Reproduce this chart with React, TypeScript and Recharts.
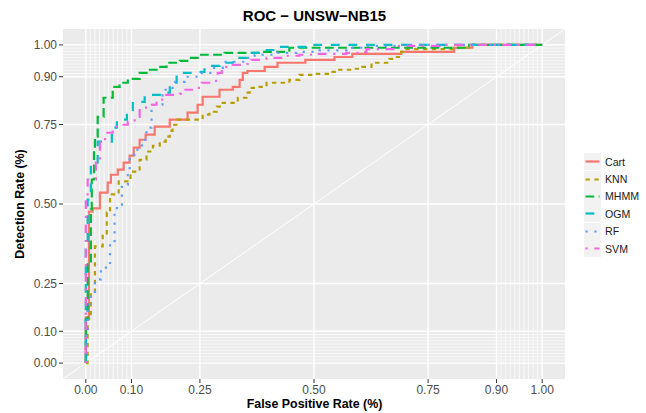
import { LineChart, Line, XAxis, YAxis, CartesianGrid, ReferenceLine, Legend } from "recharts";

const title = "ROC − UNSW−NB15";
const xTitle = "False Positive Rate (%)";
const yTitle = "Detection Rate (%)";

const majorBreaks = [0, 0.1, 0.25, 0.5, 0.75, 0.9, 1];
const minorBreaks = [
    0.01, 0.02, 0.03, 0.04, 0.05, 0.06, 0.07, 0.08, 0.09,
    0.91, 0.92, 0.93, 0.94, 0.95, 0.96, 0.97, 0.98, 0.99,
];

// [fpr, tpr] corners of each ROC staircase
const cart = [
    [0, 0], [0, 0.144], [0.007, 0.476], [0.015, 0.486], [0.031, 0.536], [0.048, 0.567],
    [0.055, 0.592], [0.07, 0.608], [0.083, 0.63], [0.096, 0.652], [0.105, 0.677],
    [0.118, 0.702], [0.131, 0.718], [0.151, 0.743], [0.184, 0.765], [0.223, 0.787],
    [0.245, 0.812], [0.256, 0.837], [0.293, 0.859], [0.322, 0.868], [0.337, 0.89],
    [0.344, 0.912], [0.354, 0.918], [0.392, 0.931], [0.42, 0.944], [0.481, 0.953],
    [0.545, 0.962], [0.584, 0.972], [0.691, 0.978], [0.807, 0.991], [0.847, 1], [1, 1],
];
const knn = [
    [0, 0], [0.004, 0.138], [0.011, 0.216], [0.02, 0.367], [0.037, 0.404], [0.046, 0.473],
    [0.053, 0.53], [0.072, 0.571], [0.098, 0.602], [0.118, 0.639], [0.133, 0.665],
    [0.147, 0.683], [0.162, 0.696], [0.175, 0.712], [0.184, 0.73], [0.19, 0.749],
    [0.201, 0.765], [0.256, 0.781], [0.271, 0.79], [0.287, 0.806], [0.3, 0.818],
    [0.333, 0.834], [0.352, 0.85], [0.359, 0.865], [0.374, 0.868], [0.396, 0.881],
    [0.446, 0.89], [0.468, 0.906], [0.497, 0.909], [0.534, 0.915], [0.549, 0.922],
    [0.584, 0.925], [0.606, 0.931], [0.626, 0.944], [0.665, 0.956], [0.676, 0.962],
    [0.691, 0.978], [0.698, 0.987], [0.807, 0.991], [0.847, 1], [1, 1],
];
const mhmm = [
    [0, 0], [0, 0.138], [0.004, 0.31], [0.011, 0.483], [0.013, 0.577], [0.018, 0.671],
    [0.02, 0.712], [0.026, 0.774], [0.039, 0.834], [0.059, 0.868], [0.074, 0.881],
    [0.092, 0.893], [0.118, 0.912], [0.133, 0.922], [0.155, 0.931], [0.177, 0.944],
    [0.206, 0.95], [0.228, 0.959], [0.249, 0.969], [0.304, 0.975], [0.387, 0.978],
    [0.446, 0.991], [0.84, 1], [1, 1],
];
const ogm = [
    [0, 0], [0, 0.357], [0.004, 0.514], [0.011, 0.63], [0.026, 0.696], [0.057, 0.74],
    [0.068, 0.765], [0.09, 0.787], [0.103, 0.821], [0.129, 0.843], [0.162, 0.85],
    [0.184, 0.881], [0.199, 0.912], [0.239, 0.915], [0.26, 0.934], [0.293, 0.944],
    [0.322, 0.959], [0.352, 0.975], [0.387, 0.984], [0.414, 0.994], [0.49, 1], [1, 1],
];
const rf = [
    [0, 0], [0, 0.107], [0.004, 0.185], [0.011, 0.216], [0.02, 0.263], [0.033, 0.288],
    [0.044, 0.304], [0.053, 0.379], [0.063, 0.476], [0.068, 0.498], [0.079, 0.561],
    [0.092, 0.599], [0.096, 0.655], [0.107, 0.671], [0.123, 0.702], [0.133, 0.74],
    [0.144, 0.812], [0.168, 0.859], [0.19, 0.884], [0.217, 0.9], [0.254, 0.912],
    [0.278, 0.928], [0.3, 0.947], [0.352, 0.959], [0.37, 0.969], [0.42, 0.975],
    [0.462, 0.978], [0.512, 0.983], [0.571, 0.991], [0.615, 0.997], [0.687, 1], [1, 1],
];
const svm = [
    [0, 0], [0, 0.514], [0.004, 0.577], [0.022, 0.63], [0.031, 0.693], [0.042, 0.724],
    [0.059, 0.743], [0.074, 0.749], [0.092, 0.759], [0.107, 0.774], [0.118, 0.803],
    [0.14, 0.812], [0.155, 0.828], [0.173, 0.843], [0.206, 0.846], [0.214, 0.859],
    [0.243, 0.865], [0.254, 0.881], [0.282, 0.887], [0.289, 0.912], [0.298, 0.931],
    [0.322, 0.937], [0.354, 0.94], [0.363, 0.953], [0.396, 0.959], [0.431, 0.966],
    [0.468, 0.969], [0.497, 0.972], [0.571, 0.975], [0.6, 0.978], [0.615, 0.987],
    [0.681, 0.997], [0.775, 1], [1, 1],
];

const models = ["Cart", "KNN", "MHMM", "OGM", "RF", "SVM"];
const curves = [cart, knn, mhmm, ogm, rf, svm];
const colors = ["#F8766D", "#B79F00", "#00BA38", "#00BFC4", "#619CFF", "#F564E3"];
const dashes = ["", "4.4 4.4", "8.8 4.4", "8.8 8.8", "2.2 6.6", "2.2 6.6 8.8 6.6"];

const series = models.map((name, i) => ({
    name,
    color: colors[i],
    dash: dashes[i],
    data: curves[i].map(([fpr, tpr]) => ({ fpr, tpr })),
}));

const font = "'Liberation Sans', Arial, sans-serif";
const tickStyle = { fill: "#4D4D4D", fontSize: 12, fontFamily: font };
const fmt = (v: number) => v.toFixed(2);

const RocLegend = () => (
    <div style={{ fontFamily: font }}>
        {series.map((s) => (
            <div key={s.name} style={{ display: "flex", alignItems: "center", height: 17.4 }}>
                <svg width={17} height={17} style={{ display: "block" }}>
                    <rect x={0} y={0} width={17} height={17} fill="#F2F2F2" />
                    <line x1={1.5} y1={8.5} x2={15.5} y2={8.5} stroke={s.color} strokeWidth={2.2} strokeDasharray={s.dash} />
                </svg>
                <span style={{ marginLeft: 4, fontSize: 10.6, color: "#1A1A1A" }}>{s.name}</span>
            </div>
        ))}
    </div>
);

export default function App() {
    return (
        <div style={{ position: "relative", width: 646, height: 413, background: "#fff", fontFamily: font }}>
            <style>{`body{margin:0}`}</style>
            <LineChart width={646} height={413} margin={{ top: 29, right: 81, bottom: 0, left: 0 }}>
                <CartesianGrid
                    fill="#EBEBEB" stroke="#FFFFFF" strokeWidth={0.7}
                    verticalValues={minorBreaks} horizontalValues={minorBreaks}
                />
                <CartesianGrid
                    stroke="#FFFFFF" strokeWidth={1.4}
                    verticalValues={majorBreaks} horizontalValues={majorBreaks}
                />
                <XAxis
                    type="number" dataKey="fpr" domain={[-0.05, 1.05]} allowDataOverflow
                    ticks={majorBreaks} interval={0} tickFormatter={fmt}
                    axisLine={false} tickLine={{ stroke: "#333333" }} tickSize={4} tickMargin={2}
                    tick={tickStyle} height={34}
                />
                <YAxis
                    type="number" dataKey="tpr" domain={[-0.05, 1.05]} allowDataOverflow
                    ticks={majorBreaks} interval={0} tickFormatter={fmt}
                    axisLine={false} tickLine={{ stroke: "#333333" }} tickSize={4} tickMargin={2}
                    tick={tickStyle} width={63}
                />
                <ReferenceLine
                    segment={[{ x: -0.05, y: -0.05 }, { x: 1.05, y: 1.05 }]}
                    stroke="#FFFFFF" strokeWidth={1}
                />
                {series.map((s) => (
                    <Line
                        key={s.name} data={s.data} dataKey="tpr" name={s.name}
                        type="stepAfter" stroke={s.color} strokeWidth={2.2}
                        strokeDasharray={s.dash || undefined}
                        dot={false} activeDot={false} isAnimationActive={false}
                    />
                ))}
                <Legend
                    layout="horizontal" align="center" verticalAlign="middle"
                    content={<RocLegend />}
                    wrapperStyle={{ position: "absolute", left: 584, top: 153, width: 62 }}
                />
            </LineChart>
            <div style={{
                position: "absolute", left: 63, width: 503, top: 7, textAlign: "center",
                fontSize: 15, fontWeight: 700, lineHeight: "18px", color: "#000",
            }}>{title}</div>
            <div style={{
                position: "absolute", left: 63, width: 503, top: 396, textAlign: "center",
                fontSize: 12.4, fontWeight: 700, lineHeight: "16px", color: "#000",
            }}>{xTitle}</div>
            <div style={{
                position: "absolute", left: 20, top: 204, whiteSpace: "nowrap",
                transform: "translate(-50%, -50%) rotate(-90deg)",
                fontSize: 12.4, fontWeight: 700, lineHeight: "16px", color: "#000",
            }}>{yTitle}</div>
        </div>
    );
}
